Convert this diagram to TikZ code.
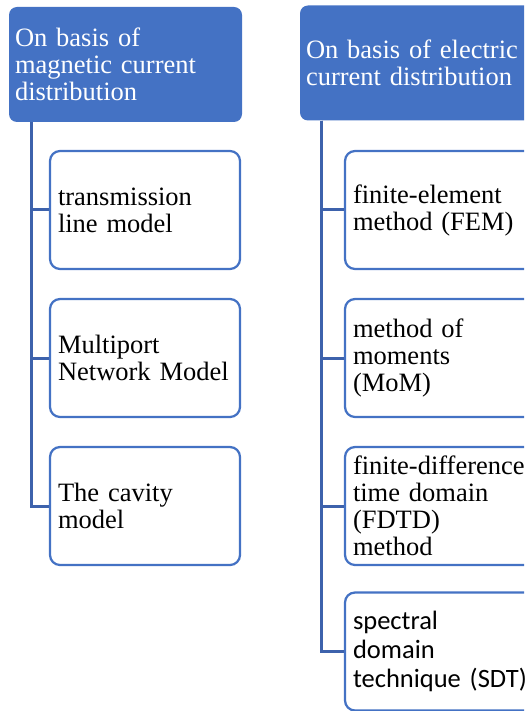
\documentclass[tikz,border=0pt]{standalone}
\usepackage{fontspec}
\setmainfont{Liberation Serif}
\newfontfamily\sdtfont{Carlito}
\hyphenpenalty=10000
\exhyphenpenalty=10000
\definecolor{hdrblue}{HTML}{4472C4}
\definecolor{edgeblue}{HTML}{4472C4}
\definecolor{linkblue}{HTML}{3D62AC}
\begin{document}
\begin{tikzpicture}[x=1pt,y=-1pt,
  hdr/.style={rectangle, rounded corners=8pt, fill=hdrblue, text=white,
    minimum width=233pt, minimum height=115pt, text width=221pt,
    inner xsep=6pt, align=left, font=\fontsize{26.5}{27}\selectfont},
  item/.style={rectangle, rounded corners=10pt, draw=edgeblue, line width=2.25pt,
    fill=white, minimum width=190pt, minimum height=118pt, text width=174pt,
    inner xsep=8pt, align=left, font=\fontsize{26.5}{27}\selectfont},
  link/.style={draw=linkblue, line width=3pt}]
\useasboundingbox (0,0) rectangle (524,711);
\clip (0,0) rectangle (524,711);

% magnetic current branch
\node[hdr] (hL) at (125.5,64.5) {On basis of\\magnetic current\\distribution};
\node[item] (l1) at (145,210) {transmission\\line model};
\node[item] (l2) at (145,358) {Multiport\\Network Model};
\node[item] (l3) at (145,506) {The cavity\\model};

% electric current branch
\node[hdr] (hR) at (416.5,63) {On basis of electric\\current distribution};
\node[item] (r1) at (440,210) {finite-element\\method (FEM)};
\node[item] (r2) at (440,358) {method of\\moments\\(MoM)};
\node[item] (r3) at (440,506) {finite-difference\\time domain\\(FDTD)\\method};
\node[item, font=\sdtfont\fontsize{26.5}{29}\selectfont] (r4) at (440,651.5)
  {spectral\\domain\\technique (SDT)};

% tree connectors
\foreach \c in {l1,l2,l3}
  \draw[link] ([xshift=23pt]hL.south west) |- (\c.west);
\foreach \c in {r1,r2,r3,r4}
  \draw[link] ([xshift=22pt]hR.south west) |- (\c.west);
\end{tikzpicture}
\end{document}
